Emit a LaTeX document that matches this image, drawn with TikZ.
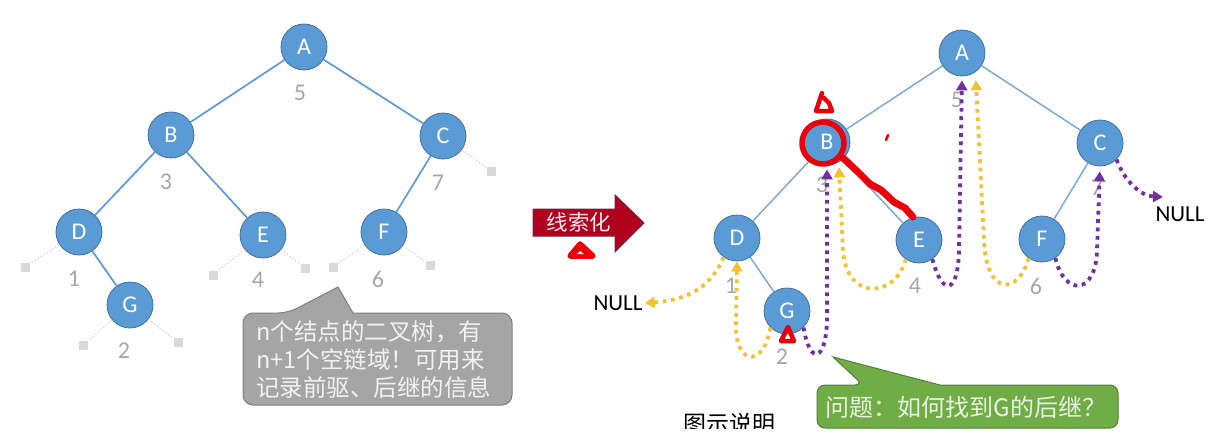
\documentclass[tikz,border=0pt]{standalone}
\usepackage{fontspec}
\setmainfont{Carlito}
\newfontfamily\cjk{Noto Sans CJK SC}
\usetikzlibrary{arrows.meta}
\definecolor{nodeblue}{HTML}{5B9BD5}
\definecolor{nodeedge}{HTML}{41719C}
\definecolor{edgeL}{HTML}{5B9BD5}
\definecolor{edgeR}{HTML}{7BAAD8}
\definecolor{numgray}{HTML}{A6A6A6}
\definecolor{sqgray}{HTML}{D9D9D9}
\definecolor{thyellow}{HTML}{F2C230}
\definecolor{thpurple}{HTML}{7030A0}
\definecolor{annred}{HTML}{E8000B}
\definecolor{calgray}{HTML}{A5A5A5}
\definecolor{calgrayb}{HTML}{7F7F7F}
\definecolor{caltext}{HTML}{F2F2F2}
\definecolor{calgreen}{HTML}{70AD47}
\definecolor{calgreenb}{HTML}{548235}
\definecolor{greentext}{HTML}{EAF4E2}
\definecolor{arrred}{HTML}{B0001E}
\definecolor{arrredb}{HTML}{7A2040}
\begin{document}
\begin{tikzpicture}[x=1pt,y=-1pt,
  tnode/.style={circle,fill=nodeblue,draw=nodeedge,line width=0.8pt,minimum size=46pt,inner sep=0pt,text=white,font=\fontsize{24}{24}\selectfont},
  numlab/.style={text=numgray,inner sep=0pt,font=\fontsize{24}{24}\selectfont},
  sqnode/.style={rectangle,fill=sqgray,minimum size=9pt,inner sep=0pt},
  ledge/.style={draw=edgeL,line width=1.7pt},
  redge/.style={draw=edgeR,line width=1.5pt},
  nulllink/.style={draw=sqgray,line width=1.3pt,dash pattern=on 1.5pt off 2pt},
  thread/.style={line width=3.8pt,dash pattern=on 3.8pt off 4.6pt,-{Triangle[length=10pt,width=11pt]}},
  ythread/.style={thread,draw=thyellow},
  pthread/.style={thread,draw=thpurple},
  nulltext/.style={inner sep=2pt,font=\fontsize{23}{23}\selectfont},
  redmark/.style={draw=annred,line width=5.5pt,line cap=round,line join=round},
]
\useasboundingbox (0,0) rectangle (1218,444);
% ---------------- left tree ----------------
\node[tnode] (lA) at (304,47) {A};
\node[tnode] (lB) at (171,135) {B};
\node[tnode] (lC) at (443,136) {C};
\node[tnode] (lD) at (79,232) {D};
\node[tnode] (lE) at (263,235) {E};
\node[tnode] (lF) at (384,232) {F};
\node[tnode] (lG) at (130,305) {G};
\draw[ledge] (lA) -- (lB);
\draw[ledge] (lA) -- (lC);
\draw[ledge] (lB) -- (lD);
\draw[ledge] (lB) -- (lE);
\draw[ledge] (lC) -- (lF);
\draw[ledge] (lD) -- (lG);
\node[numlab] (ln5) at (300,93) {5};
\node[numlab] (ln3) at (166,182) {3};
\node[numlab] (ln7) at (438,183) {7};
\node[numlab] (ln1) at (74,279) {1};
\node[numlab] (ln4) at (258,280) {4};
\node[numlab] (ln6) at (378,279) {6};
\node[numlab] (ln2) at (124,351) {2};
\node[sqnode] (sC) at (491,171) {};
\node[sqnode] (sDl) at (25,267) {};
\node[sqnode] (sEl) at (213,275) {};
\node[sqnode] (sEr) at (305,268) {};
\node[sqnode] (sFl) at (333,267) {};
\node[sqnode] (sFr) at (430,265) {};
\node[sqnode] (sGl) at (83,345) {};
\node[sqnode] (sGr) at (178,342) {};
\draw[nulllink] (lC) -- (sC);
\draw[nulllink] (lD) -- (sDl);
\draw[nulllink] (lE) -- (sEl);
\draw[nulllink] (lE) -- (sEr);
\draw[nulllink] (lF) -- (sFl);
\draw[nulllink] (lF) -- (sFr);
\draw[nulllink] (lG) -- (sGl);
\draw[nulllink] (lG) -- (sGr);
% gray callout
\draw[fill=calgray,draw=calgrayb,line width=1pt] (243,360) [rounded corners=10pt] -- (243,313) -- (288,313) [sharp corners] -- (338,287) -- (353,313) [rounded corners=10pt] -- (512,313) -- (512,405) -- (243,405) -- cycle;
\node[anchor=west,align=left,inner sep=0pt,text=caltext,font=\cjk\fontsize{23.5}{28}\selectfont] (gnote) at (256,360) {n个结点的二叉树，有\\n+1个空链域！可用来\\记录前驱、后继的信息};
% ---------------- arrow ----------------
\path[fill=arrred,draw=arrredb,line width=1pt] (533,209) -- (615,209) -- (615,195) -- (644,223) -- (615,252) -- (615,236) -- (533,236) -- cycle;
\node[inner sep=0pt,text=white!92!red,font=\cjk\fontsize{21.5}{21.5}\selectfont] (thr) at (579,222) {线索化};
\draw[redmark,fill=annred] (580,244) -- (570,256) -- (593,256) -- cycle;
\fill[white] (580,251) -- (577,254) -- (584,254) -- cycle;
% ---------------- right tree ----------------
\node[tnode] (rA) at (962,53) {A};
\node[tnode] (rB) at (827,142) {B};
\node[tnode] (rC) at (1100,143) {C};
\node[tnode] (rD) at (737,238) {D};
\node[tnode] (rE) at (919,240) {E};
\node[tnode] (rF) at (1042,239) {F};
\node[tnode] (rG) at (787,311) {G};
\draw[redge] (rA) -- (rB);
\draw[redge] (rA) -- (rC);
\draw[redge] (rB) -- (rD);
\draw[redge] (rB) -- (rE);
\draw[redge] (rC) -- (rF);
\draw[redge] (rD) -- (rG);
\node[numlab] (rn5) at (957,100) {5};
\node[numlab] (rn3) at (822,185) {3};
\node[numlab] (rn7) at (1097,188) {7};
\node[numlab] (rn1) at (731,286) {1};
\node[numlab] (rn4) at (915,286) {4};
\node[numlab] (rn6) at (1036,286) {6};
\node[numlab] (rn2) at (782,357) {2};
\node[nulltext] (nullL) at (618,303) {NULL};
\node[nulltext] (nullR) at (1180,214) {NULL};
\coordinate (nullRt) at (1163,197);
% threads
\draw[ythread] (rD.235) .. controls (712,285) and (690,300) .. (nullL.east);
\draw[ythread] (rG.225) .. controls (764,366) and (738,366) .. (736,330) -- (rD.south);
\draw[pthread,shorten >=4pt] (rG.315) .. controls (810,366) and (826,362) .. (827,320) -- (rB.south);
\draw[ythread,shorten >=5pt] (rE.235) .. controls (896,298) and (846,302) .. (843,250) -- (rB.300);
\draw[pthread,shorten >=4pt] (rE.305) .. controls (942,296) and (958,296) .. (959,250) -- (rA.south);
\draw[ythread,shorten >=8pt] (rF.235) .. controls (1018,296) and (986,296) .. (984,240) -- (rA.305);
\draw[pthread,shorten >=5pt] (rF.305) .. controls (1064,296) and (1096,296) .. (1097,250) -- (rC.south);
\draw[pthread] (rC.315) .. controls (1124,180) and (1140,196) .. (nullRt);
% red annotations
\draw[redmark] (823,143) circle (21);
\draw[redmark,line width=7pt] (843,158) -- (858,172) -- (870,184) -- (881,190) -- (894,202) -- (905,208) -- (913,217);
\draw[redmark,line width=4.5pt] (822,93) -- (816,111) -- (832,111) -- (829,103) -- (824,98);
\draw[redmark,line width=2.5pt] (886,140) -- (888,135);
\draw[redmark,line width=4.5pt] (788,327) -- (781,341) -- (794,341) -- cycle;
% green callout
\draw[fill=calgreen,draw=calgreenb,line width=1pt] (817,405) [rounded corners=8pt] -- (817,385) -- (863,385) [sharp corners] -- (833,357) -- (940,385) [rounded corners=8pt] -- (1118,385) -- (1118,428) -- (817,428) -- cycle;
\node[inner sep=0pt,text=greentext,font=\cjk\fontsize{24}{24}\selectfont] (qnote) at (966,407) {问题：如何找到G的后继？};
% clipped caption
\begin{scope}
\clip (600,380) rectangle (800,428);
\node[inner sep=0pt,font=\cjk\fontsize{23}{23}\selectfont] (cap) at (729,424) {图示说明};
\end{scope}
\end{tikzpicture}
\end{document}
